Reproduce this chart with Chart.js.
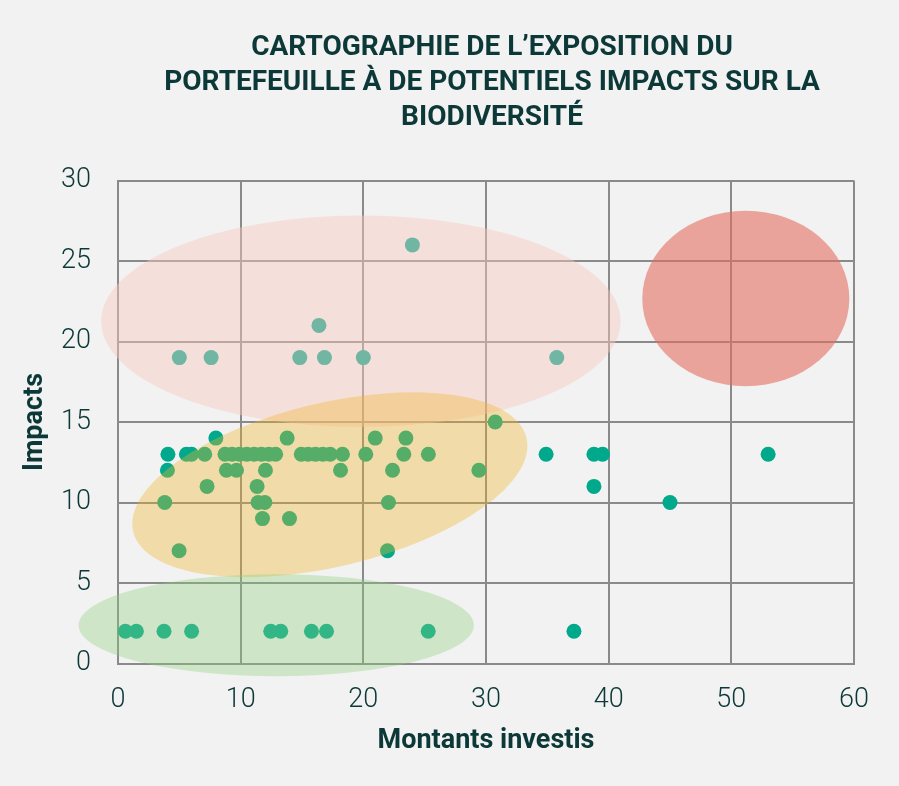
<!DOCTYPE html>
<html><head><meta charset="utf-8">
<script src="https://cdn.jsdelivr.net/npm/chart.js@4.4.1/dist/chart.umd.min.js"></script>
<style>html,body{margin:0;padding:0;background:#f2f2f2;}canvas{display:block;}</style>
</head><body>
<canvas id="c" width="899" height="786"></canvas>
<script>
// ---- Data ----
const titleLines = ["CARTOGRAPHIE DE L\u2019EXPOSITION DU", "PORTEFEUILLE \u00C0 DE POTENTIELS IMPACTS SUR LA", "BIODIVERSIT\u00C9"];
const xAxisTitle = "Montants investis";
const yAxisTitle = "Impacts";
const xTicks = [0, 10, 20, 30, 40, 50, 60];
const yTicks = [0, 5, 10, 15, 20, 25, 30];

// Montants investis (x) and Impacts (y), one entry per holding
const montants = [
  0.6, 1.5, 3.75, 6.0, 12.45, 13.27, 15.77, 17.0, 25.29, 37.17,
  4.98, 21.97,
  11.78, 13.98,
  3.81, 11.42, 11.97, 22.05, 45.0,
  7.26, 11.34, 38.8,
  4.03, 8.84, 9.66, 12.02, 18.14, 22.38, 29.42,
  4.07, 5.58, 6.0, 7.07, 8.72, 9.3, 9.9, 10.5, 11.1, 11.7, 12.3, 12.85, 14.94, 15.5, 16.1, 16.7, 17.3, 18.3, 20.2, 23.3, 25.3, 34.9, 38.8, 39.5, 53.0,
  7.98, 13.79, 20.97, 23.47,
  30.75,
  5.0, 7.59, 14.82, 16.83, 20.0, 35.77,
  16.38,
  24.0
];
const impacts = [
  2, 2, 2, 2, 2, 2, 2, 2, 2, 2,
  7, 7,
  9, 9,
  10, 10, 10, 10, 10,
  11, 11, 11,
  12, 12, 12, 12, 12, 12, 12,
  13, 13, 13, 13, 13, 13, 13, 13, 13, 13, 13, 13, 13, 13, 13, 13, 13, 13, 13, 13, 13, 13, 13, 13, 13,
  14, 14, 14, 14,
  15,
  19, 19, 19, 19, 19, 19,
  21,
  26
];

// Highlighted zones (data units: centre, half-widths)
const zoneCx = [19.8, 17.27, 12.9, 51.18];
const zoneCy = [21.26, 11.1, 2.38, 22.67];
const zoneRx = [21.17, 16.48, 16.11, 8.44];
const zoneRy = [6.57, 5.09, 3.17, 5.45];

// ---- Styles ----
const zoneAngles = [0, -13.4, 0, 0];
const zoneColors = ['rgba(249,200,190,0.45)', 'rgba(242,183,39,0.355)', 'rgba(144,208,124,0.355)', 'rgba(226,110,95,0.6)'];
const textColor = '#0c3838';
const gridColor = '#8a8a8a';

const points = montants.map((m, i) => ({x: m, y: impacts[i]}));

const bgPlugin = {
  id: 'bg',
  beforeDraw(chart) {
    const ctx = chart.ctx;
    ctx.save();
    ctx.fillStyle = '#f2f2f2';
    ctx.fillRect(0, 0, chart.width, chart.height);
    ctx.restore();
  }
};

const zonesPlugin = {
  id: 'zones',
  afterDatasetsDraw(chart) {
    const {ctx, scales: {x, y}} = chart;
    ctx.save();
    for (let i = 0; i < zoneCx.length; i++) {
      const px = x.getPixelForValue(zoneCx[i]);
      const py = y.getPixelForValue(zoneCy[i]);
      const rx = Math.abs(x.getPixelForValue(zoneCx[i] + zoneRx[i]) - px);
      const ry = Math.abs(y.getPixelForValue(zoneCy[i] + zoneRy[i]) - py);
      ctx.beginPath();
      ctx.ellipse(px, py, rx, ry, zoneAngles[i] * Math.PI / 180, 0, Math.PI * 2);
      ctx.fillStyle = zoneColors[i];
      ctx.fill();
    }
    ctx.restore();
  }
};

const titlePlugin = {
  id: 'titleLines',
  afterDraw(chart) {
    const ctx = chart.ctx;
    ctx.save();
    ctx.font = 'bold 28px Roboto';
    ctx.fillStyle = textColor;
    ctx.textAlign = 'center';
    ctx.textBaseline = 'middle';
    titleLines.forEach((t, i) => ctx.fillText(t, 492, 48 + i * 35));
    ctx.restore();
  }
};

new Chart(document.getElementById('c'), {
  type: 'scatter',
  data: {
    datasets: [{
      data: points,
      backgroundColor: '#00a88c',
      borderWidth: 0,
      pointRadius: 7.5,
      pointHoverRadius: 7.5,
      clip: false
    }]
  },
  options: {
    responsive: false,
    animation: false,
    devicePixelRatio: 1,
    layout: {padding: {left: 0, right: 45, top: 180.5, bottom: 0}},
    plugins: {legend: {display: false}, tooltip: {enabled: false}, title: {display: false}},
    scales: {
      x: {
        type: 'linear', min: 0, max: 60,
        afterBuildTicks: s => { s.ticks = xTicks.map(v => ({value: v})); },
        afterFit: s => { s.height = 122.5; },
        ticks: {padding: 21, color: textColor, font: {family: 'Roboto', size: 27, weight: '300'}},
        grid: {color: gridColor, lineWidth: 2, drawTicks: false},
        border: {color: gridColor, width: 2},
        title: {display: true, text: xAxisTitle, color: textColor, font: {family: 'Roboto', size: 27, weight: 'bold'}, padding: {top: 0, bottom: 28.8}}
      },
      y: {
        type: 'linear', min: 0, max: 30,
        afterBuildTicks: s => { s.ticks = yTicks.map(v => ({value: v})); },
        afterFit: s => { s.width = 118; },
        ticks: {padding: 27, color: textColor, font: {family: 'Roboto', size: 27, weight: '300'}},
        grid: {color: gridColor, lineWidth: 2, drawTicks: false},
        border: {color: gridColor, width: 2},
        title: {display: true, text: yAxisTitle, color: textColor, font: {family: 'Roboto', size: 27, weight: 'bold'}, padding: {top: 19, bottom: 0}}
      }
    }
  },
  plugins: [bgPlugin, zonesPlugin, titlePlugin]
});
</script>
</body></html>
